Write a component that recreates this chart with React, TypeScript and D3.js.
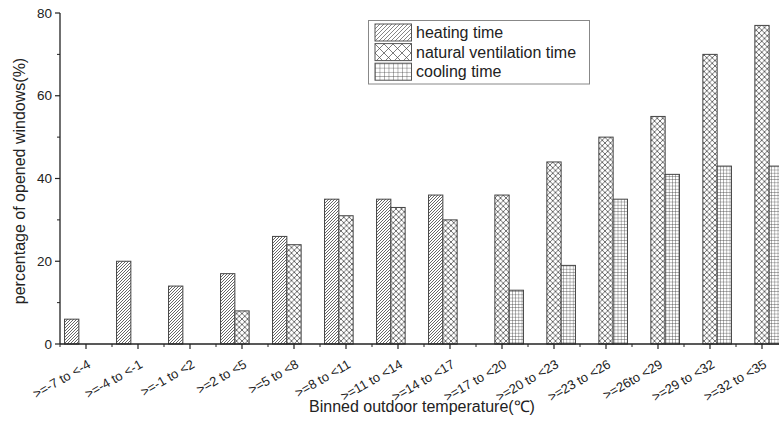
import React from "react";
import * as d3 from "d3";

const categories = [
  ">=-7 to <-4", ">=-4 to <-1", ">=-1 to <2", ">=2 to <5", ">=5 to <8",
  ">=8 to <11", ">=11 to <14", ">=14 to <17", ">=17 to <20", ">=20 to <23",
  ">=23 to <26", ">=26to <29", ">=29 to <32", ">=32 to <35",
];
const heating = [6, 20, 14, 17, 26, 35, 35, 36, 0, 0, 0, 0, 0, 0];
const natural = [0, 0, 0, 8, 24, 31, 33, 30, 36, 44, 50, 55, 70, 77];
const cooling = [0, 0, 0, 0, 0, 0, 0, 0, 13, 19, 35, 41, 43, 43];
const seriesNames = ["heating time", "natural ventilation time", "cooling time"];
const yTicks = [0, 20, 40, 60, 80];
const yMinor = [10, 30, 50, 70];

const W = 779, H = 421;
const left = 60, bottom = 344, top = 13;

export default function App() {
  const x = d3.scaleBand<string>().domain(categories).range([left, left + 14 * 52]).padding(0);
  const y = d3.scaleLinear().domain([0, 80]).range([bottom, top]);
  const barW = 14.3;
  const series = [heating, natural, cooling];
  const fills = ["url(#pH)", "url(#pN)", "url(#pC)"];
  const lfills = ["url(#lH)", "url(#lN)", "url(#lC)"];
  const font = "Arial, 'Liberation Sans', sans-serif";
  const stroke = "#444";

  return (
    <svg width={W} height={H} style={{ position: "absolute", left: 0, top: 0, background: "#fff" }} fontFamily={font}>
      <defs>
        <pattern id="pH" patternUnits="userSpaceOnUse" width={3} height={3}>
          <rect width={3} height={3} fill="#fff" />
          <path d="M-1,1 l2,-2 M0,3 l3,-3 M2,4 l2,-2" stroke="#555" strokeWidth={0.9} />
        </pattern>
        <pattern id="pN" patternUnits="userSpaceOnUse" width={5.5} height={5.5}>
          <rect width={5.5} height={5.5} fill="#fff" />
          <path d="M0,0 L5.5,5.5 M5.5,0 L0,5.5" stroke="#333" strokeWidth={0.7} />
        </pattern>
        <pattern id="pC" patternUnits="userSpaceOnUse" width={3.2} height={3.2}>
          <rect width={3.2} height={3.2} fill="#fff" />
          <path d="M0,0 H3.2 M0,0 V3.2" stroke="#333" strokeWidth={0.7} />
        </pattern>
        <pattern id="lH" patternUnits="userSpaceOnUse" width={4} height={4}>
          <rect width={4} height={4} fill="#fff" />
          <path d="M-1,1 l2,-2 M0,4 l4,-4 M3,5 l2,-2" stroke="#666" strokeWidth={0.8} />
        </pattern>
        <pattern id="lN" patternUnits="userSpaceOnUse" width={9} height={9} x={375} y={44}>
          <rect width={9} height={9} fill="#fff" />
          <path d="M0,0 L9,9 M9,0 L0,9" stroke="#444" strokeWidth={0.7} />
        </pattern>
        <pattern id="lC" patternUnits="userSpaceOnUse" width={4.5} height={4.2} x={375} y={63.5}>
          <rect width={4.5} height={4.2} fill="#fff" />
          <path d="M0,0 H4.5 M0,0 V4.2" stroke="#333" strokeWidth={0.7} />
        </pattern>
      </defs>

      {categories.map((c, i) => {
        const cx = (x(c) as number) + x.bandwidth() / 2;
        return series.map((s, k) => {
          const v = s[i];
          if (!v) return null;
          const bx = cx - barW * 1.5 + k * barW;
          return (
            <rect key={c + k} x={bx} y={y(v)} width={barW} height={y(0) - y(v)}
              fill={fills[k]} stroke={stroke} strokeWidth={1} />
          );
        });
      })}

      {/* y axis */}
      <line x1={left} x2={left} y1={bottom} y2={top} stroke="#222" strokeWidth={1.3} />
      {yTicks.map((t) => (
        <g key={t}>
          <line x1={left - 5} x2={left} y1={y(t)} y2={y(t)} stroke="#222" strokeWidth={1.2} />
          <text x={left - 8} y={y(t)} dy="0.35em" textAnchor="end" fontSize={13.5} fill="#222">{t}</text>
        </g>
      ))}
      {yMinor.map((t) => (
        <line key={t} x1={left - 3} x2={left} y1={y(t)} y2={y(t)} stroke="#222" strokeWidth={1} />
      ))}

      {/* x axis */}
      <line x1={left} x2={W} y1={bottom} y2={bottom} stroke="#222" strokeWidth={1.3} />
      {categories.map((c, i) => {
        const cx = (x(c) as number) + x.bandwidth() / 2;
        return (
          <g key={c}>
            <line x1={cx} x2={cx} y1={bottom} y2={bottom + 5} stroke="#222" strokeWidth={1.2} />
            <line x1={x(c) as number} x2={x(c) as number} y1={bottom} y2={bottom + 3} stroke="#222" strokeWidth={1} />
            <text transform={`translate(${cx + 1},${bottom + 15}) rotate(-30)`} textAnchor="end"
              dy="0.7em" fontSize={13} fill="#222">{c}</text>
          </g>
        );
      })}

      <text x={422} y={412} textAnchor="middle" fontSize={16} fill="#222">Binned outdoor temperature(℃)</text>
      <text transform={`translate(25,181) rotate(-90)`} textAnchor="middle" fontSize={16} fill="#222">
        percentage of opened windows(%)
      </text>

      {/* legend */}
      <rect x={368.5} y={20.5} width={221} height={63.5} fill="#fff" stroke="#888" strokeWidth={1} />
      {seriesNames.map((n, k) => {
        const ly = 24 + k * 19.6;
        return (
          <g key={n}>
            <rect x={375} y={ly} width={36.5} height={17} fill={lfills[k]} stroke="#555" strokeWidth={1} />
            <text x={416} y={ly + 8.5} dy="0.35em" fontSize={16} fill="#222">{n}</text>
          </g>
        );
      })}
    </svg>
  );
}
